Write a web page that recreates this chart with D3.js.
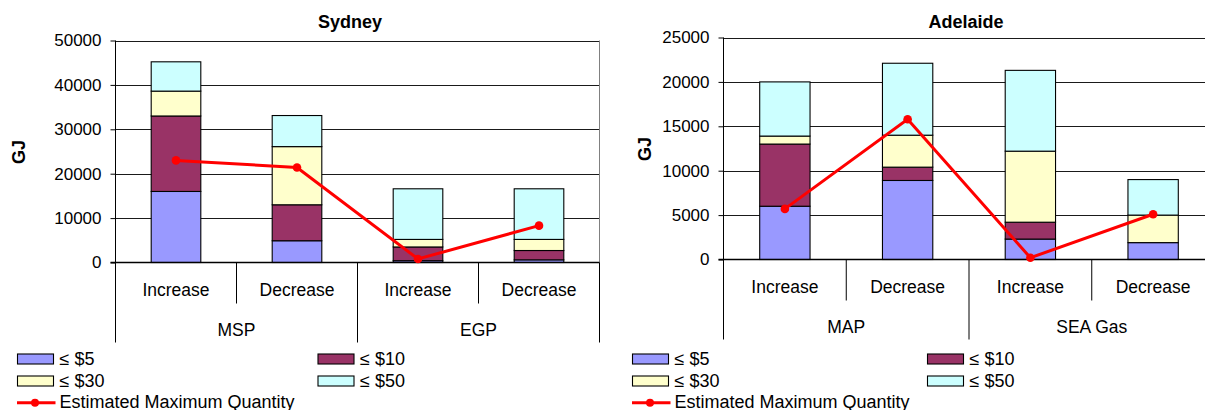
<!DOCTYPE html>
<html>
<head>
<meta charset="utf-8">
<script src="https://cdn.jsdelivr.net/npm/d3@7"></script>
<style>
  html, body { margin: 0; padding: 0; background: #fff; }
  svg { display: block; font-family: "Liberation Sans", Arial, sans-serif; }
</style>
</head>
<body>
<svg id="chart" width="1205" height="410"></svg>
<script>
// Category labels shared by both panels
const categories = ["Increase", "Decrease", "Increase", "Decrease"];
const priceBands = ["≤ $5", "≤ $10", "≤ $30", "≤ $50"];
const lineLabel = "Estimated Maximum Quantity";

// Sydney (GJ)
const sydneyGroups = ["MSP", "EGP"];
const sydneyUpTo5  = [16000, 4900, 400, 600];
const sydneyUpTo10 = [17000, 8100, 3100, 2100];
const sydneyUpTo30 = [5600, 13100, 1700, 2500];
const sydneyUpTo50 = [6600, 7000, 11400, 11400];
const sydneyMaxQty = [23000, 21400, 800, 8300];
const sydneyTicks  = [0, 10000, 20000, 30000, 40000, 50000];

// Adelaide (GJ)
const adelaideGroups = ["MAP", "SEA Gas"];
const adelaideUpTo5  = [6000, 8900, 2300, 1900];
const adelaideUpTo10 = [7000, 1500, 1900, 0];
const adelaideUpTo30 = [900, 3600, 8000, 3100];
const adelaideUpTo50 = [6100, 8100, 9100, 4000];
const adelaideMaxQty = [5700, 15800, 200, 5100];
const adelaideTicks  = [0, 5000, 10000, 15000, 20000, 25000];

const bandColors = ["#9999FF", "#993366", "#FFFFCC", "#CCFFFF"];
const lineColor = "#FF0000";

const svg = d3.select("#chart");

function drawPanel(cfg) {
  const g = svg.append("g");
  const series = cfg.series;
  const rows = categories.map((c, i) => {
    const r = { idx: i };
    series.forEach((s, k) => r["s" + k] = s[i]);
    return r;
  });
  const keys = series.map((s, k) => "s" + k);
  const stacked = d3.stack().keys(keys)(rows);

  const x = d3.scaleBand()
    .domain(d3.range(categories.length))
    .range([cfg.left, cfg.right])
    .paddingInner(0.59)
    .paddingOuter(0.295);
  const step = x.step();
  const y = d3.scaleLinear()
    .domain([0, d3.max(cfg.ticks)])
    .range([cfg.zero, cfg.top]);

  // gridlines
  g.append("g").selectAll("line")
    .data(cfg.ticks.filter(t => t > 0))
    .join("line")
    .attr("x1", cfg.left).attr("x2", cfg.right)
    .attr("y1", d => Math.round(y(d)) + 0.5).attr("y2", d => Math.round(y(d)) + 0.5)
    .attr("stroke", "#1a1a1a").attr("stroke-width", 1);

  // plot border on the right
  g.append("line")
    .attr("x1", cfg.right).attr("x2", cfg.right)
    .attr("y1", y(d3.max(cfg.ticks))).attr("y2", cfg.zero)
    .attr("stroke", "#808080");

  // stacked bars
  g.append("g").selectAll("g")
    .data(stacked)
    .join("g")
    .attr("fill", (d, k) => bandColors[k])
    .selectAll("rect")
    .data(d => d.filter(p => p[1] - p[0] > 0))
    .join("rect")
    .attr("x", d => x(d.data.idx))
    .attr("width", x.bandwidth())
    .attr("y", d => y(d[1]))
    .attr("height", d => y(d[0]) - y(d[1]))
    .attr("stroke", "#000")
    .attr("stroke-width", 1.1);

  // y axis
  const yAxis = d3.axisLeft(y)
    .tickValues(cfg.ticks)
    .tickFormat(d3.format("d"))
    .tickSize(5)
    .tickPadding(9);
  const ya = g.append("g")
    .attr("transform", `translate(${cfg.left},0)`)
    .call(yAxis);
  ya.select(".domain").remove();
  ya.selectAll(".tick line").attr("stroke", "#000");
  ya.selectAll(".tick text")
    .attr("font-size", 17)
    .attr("font-family", "Liberation Sans, Arial, sans-serif")
    .attr("fill", "#000");

  // axis lines: vertical axis running down through the category rows
  g.append("line")
    .attr("x1", cfg.left).attr("x2", cfg.left)
    .attr("y1", cfg.top).attr("y2", cfg.zero + 80)
    .attr("stroke", "#000");
  g.append("line")
    .attr("x1", cfg.left - 5).attr("x2", cfg.right)
    .attr("y1", cfg.zero).attr("y2", cfg.zero)
    .attr("stroke", "#000").attr("stroke-width", 1.3);

  // category separators
  d3.range(1, categories.length + 1).forEach(i => {
    const xs = cfg.left + i * step;
    const groupEdge = i % 2 === 0;
    g.append("line")
      .attr("x1", xs).attr("x2", xs)
      .attr("y1", cfg.zero).attr("y2", cfg.zero + (groupEdge ? 80 : 41))
      .attr("stroke", "#000");
  });

  // category labels
  g.append("g").selectAll("text")
    .data(categories)
    .join("text")
    .attr("x", (d, i) => x(i) + x.bandwidth() / 2)
    .attr("y", cfg.zero + 33.5)
    .attr("text-anchor", "middle")
    .attr("font-size", 17.5)
    .text(d => d);

  // group labels
  g.append("g").selectAll("text")
    .data(cfg.groups)
    .join("text")
    .attr("x", (d, j) => cfg.left + (j * 2 + 1) * step)
    .attr("y", cfg.zero + 73.5)
    .attr("text-anchor", "middle")
    .attr("font-size", 17.5)
    .text(d => d);

  // estimated maximum quantity line
  const line = d3.line()
    .x((d, i) => x(i) + x.bandwidth() / 2)
    .y(d => y(d));
  g.append("path")
    .datum(cfg.maxQty)
    .attr("d", line)
    .attr("fill", "none")
    .attr("stroke", lineColor)
    .attr("stroke-width", 3);
  g.append("g").selectAll("circle")
    .data(cfg.maxQty)
    .join("circle")
    .attr("cx", (d, i) => x(i) + x.bandwidth() / 2)
    .attr("cy", d => y(d))
    .attr("r", 4.3)
    .attr("fill", lineColor);

  // title
  g.append("text")
    .attr("x", cfg.titleX).attr("y", 28)
    .attr("text-anchor", "middle")
    .attr("font-size", 18).attr("font-weight", "bold")
    .text(cfg.title);

  // y axis title
  g.append("text")
    .attr("transform", `translate(${cfg.gjX},${cfg.gjY}) rotate(-90)`)
    .attr("text-anchor", "middle")
    .attr("font-size", 18).attr("font-weight", "bold")
    .text("GJ");

  // legend
  const leg = g.append("g");
  priceBands.forEach((name, k) => {
    const lx = k % 2 === 0 ? cfg.legX1 : cfg.legX2;
    const cy = 359 + Math.floor(k / 2) * 22;
    leg.append("rect")
      .attr("x", lx).attr("y", cy - 5)
      .attr("width", 36).attr("height", 10)
      .attr("fill", bandColors[k]).attr("stroke", "#000").attr("stroke-width", 1.1);
    leg.append("text")
      .attr("x", lx + 42).attr("y", cy + 6)
      .attr("font-size", 18)
      .text(name);
  });
  const ly = 402.7;
  leg.append("line")
    .attr("x1", cfg.legX1 - 0.5).attr("x2", cfg.legX1 + 38)
    .attr("y1", ly).attr("y2", ly)
    .attr("stroke", lineColor).attr("stroke-width", 3);
  leg.append("circle")
    .attr("cx", cfg.legX1 + 17.5).attr("cy", ly).attr("r", 4)
    .attr("fill", lineColor);
  leg.append("text")
    .attr("x", cfg.legX1 + 42).attr("y", ly + 5.5)
    .attr("font-size", 18)
    .text(lineLabel);
}

drawPanel({
  title: "Sydney",
  groups: sydneyGroups,
  series: [sydneyUpTo5, sydneyUpTo10, sydneyUpTo30, sydneyUpTo50],
  maxQty: sydneyMaxQty,
  ticks: sydneyTicks,
  left: 115.5, right: 599.5, top: 40.5, zero: 262.5,
  titleX: 350, gjX: 25, gjY: 152,
  legX1: 17.5, legX2: 318
});

drawPanel({
  title: "Adelaide",
  groups: adelaideGroups,
  series: [adelaideUpTo5, adelaideUpTo10, adelaideUpTo30, adelaideUpTo50],
  maxQty: adelaideMaxQty,
  ticks: adelaideTicks,
  left: 723.5, right: 1214.5, top: 37.5, zero: 259.5,
  titleX: 966, gjX: 650.5, gjY: 149,
  legX1: 632.5, legX2: 927.5
});
</script>
</body>
</html>
